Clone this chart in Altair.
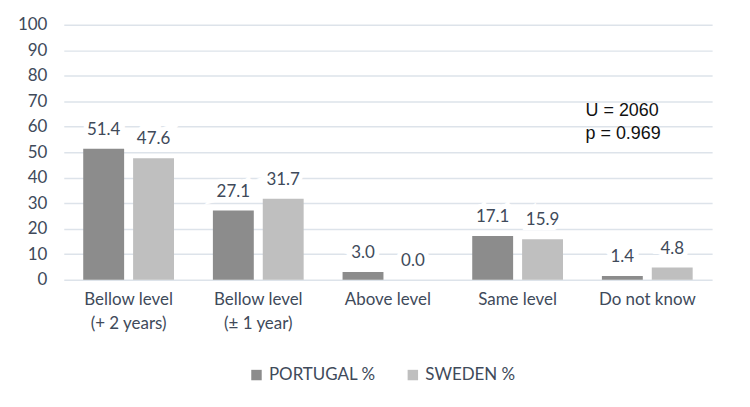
import altair as alt
import pandas as pd

categories = ["Bellow level|(+ 2 years)", "Bellow level|(± 1 year)", "Above level", "Same level", "Do not know"]
series = ["PORTUGAL %", "SWEDEN %"]
portugal = [51.4, 27.1, 3.0, 17.1, 1.4]
sweden = [47.6, 31.7, 0.0, 15.9, 4.8]
annotation = ["U = 2060", "p = 0.969"]
annotation_y = [66.3, 57.0]
y_ticks = [0, 10, 20, 30, 40, 50, 60, 70, 80, 90, 100]

rows = []
for c, p, s in zip(categories, portugal, sweden):
    rows.append({"cat": c, "series": series[0], "value": p})
    rows.append({"cat": c, "series": series[1], "value": s})
df = pd.DataFrame(rows)
ann = pd.DataFrame({"text": annotation, "value": annotation_y, "cat": ["Do not know"] * 2})

FONT = "Lato"
TXT = "#404a5a"

x = alt.X("cat:N", sort=categories, title=None,
          scale=alt.Scale(paddingInner=0.3, paddingOuter=0.15),
          axis=alt.Axis(labelExpr="split(datum.label, '|')", labelAngle=0, labelFontSize=17,
                        labelColor=TXT, labelFont=FONT, labelPadding=12, labelLineHeight=24,
                        ticks=False, domain=False, grid=False))
y = alt.Y("value:Q", title=None,
          scale=alt.Scale(domain=[0, 100], nice=False),
          axis=alt.Axis(values=y_ticks, tickCount=20, labelFontSize=17, labelColor=TXT,
                        labelFont=FONT, labelPadding=17, ticks=False, domain=False,
                        labelOverlap=False, gridColor="#dde3ea", gridWidth=1.5))
xo = alt.XOffset("series:N", sort=series, scale=alt.Scale(paddingInner=0.18))

base = alt.Chart(df)
bars = base.mark_bar().encode(
    x=x, y=y, xOffset=xo,
    color=alt.Color("series:N", sort=series,
                    scale=alt.Scale(domain=series, range=["#8c8c8c", "#bfbfbf"]),
                    legend=alt.Legend(title=None, orient="none", direction="horizontal",
                                      legendX=185, legendY=343, symbolType="square",
                                      symbolSize=110, labelFontSize=17, labelFont=FONT,
                                      labelColor=TXT, columnPadding=28, symbolStrokeWidth=0)),
)
halo = base.mark_text(baseline="bottom", dy=-10, fontSize=17, font=FONT,
                      stroke="white", strokeWidth=10, fill="white").encode(
    x=x, y=y, xOffset=xo,
    text=alt.Text("value:Q", format=".1f"))
labels = base.mark_text(baseline="bottom", dy=-10, fontSize=17, font=FONT, color=TXT).encode(
    x=x, y=y, xOffset=xo,
    text=alt.Text("value:Q", format=".1f"))
anno = alt.Chart(ann).mark_text(align="left", baseline="middle", dx=-62, fontSize=18,
                                font="Liberation Sans", color="#111111").encode(
    x=x, y=y, text="text:N")

chart = alt.layer(bars, halo, labels, anno).properties(
    width=651, height=256,
    autosize=alt.AutoSizeParams(type="none"),
    padding={"left": 56, "top": 16, "right": 30, "bottom": 120},
    background="white",
).configure_view(stroke=None)

chart.save("out.html", embed_options={"renderer": "svg", "actions": False})
